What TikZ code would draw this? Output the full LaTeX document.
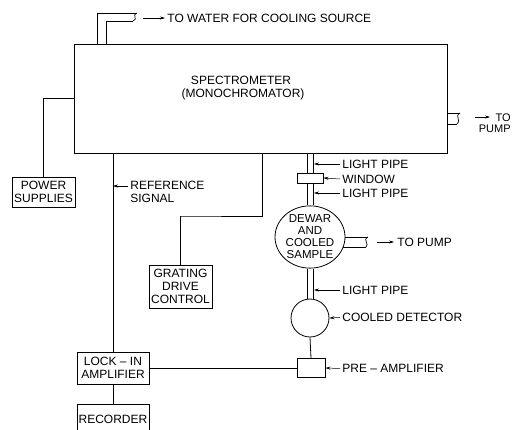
\documentclass[tikz,border=0pt]{standalone}
\usepackage{fontspec}
\setmainfont{Liberation Sans}
\usetikzlibrary{arrows.meta,shapes.geometric}
\newcommand\dfont{\fontsize{12}{13}\selectfont}
\begin{document}
\begin{tikzpicture}[x=1pt,y=-1pt,line width=0.8pt,
  box/.style={draw,inner sep=0pt,align=center,font=\dfont},
  lbl/.style={anchor=west,inner sep=0pt,align=left,font=\dfont},
  ptr/.style={line width=0.5pt,-{Stealth[length=5pt,width=3pt]}},
  pipe/.style={line width=0.7pt}]
\clip (0,0) rectangle (512,430);
\fill[white] (0,0) rectangle (512,430);
% boxes
\node[box,minimum width=373pt,minimum height=109pt] (spec) at (260.5,98.5) {};
\node[inner sep=0pt,font=\dfont] (spect) at (241,80.5) {SPECTROMETER};
\node[inner sep=0pt,font=\dfont] (mono) at (243,94) {(MONOCHROMATOR)};
\node[box,minimum width=63pt,minimum height=30pt] (power) at (43.5,192) {POWER\\SUPPLIES};
\node[box,minimum width=63pt,minimum height=43pt] (grating) at (180.5,286.5) {GRATING\\DRIVE\\CONTROL};
\node[box,minimum width=26pt,minimum height=10pt] (window) at (310,178) {};
\node[draw,ellipse,inner sep=0pt,minimum width=70pt,minimum height=62pt,align=center,font=\fontsize{11.5}{12}\selectfont] (dewar) at (310,237) {DEWAR\\AND\\COOLED\\SAMPLE};
\node[draw,circle,inner sep=0pt,minimum size=38pt] (det) at (310,318) {};
\node[box,minimum width=28pt,minimum height=19pt] (pre) at (311,368) {};
\node[box,minimum width=72pt,minimum height=32pt] (lockin) at (113,368) {LOCK – IN\\AMPLIFIER};
\node[box,minimum width=72pt,minimum height=30pt] (rec) at (113,419) {RECORDER};
% connectors
\draw (spec.west) -| (power.north);
\draw (spec.south -| lockin.north) -- (lockin.north);
\coordinate (gs) at (262,153);
\draw (gs) |- (181,216) -| (grating.north);
\draw (det.south) -- (pre.north);
\draw (pre.west) -- (lockin.east);
\draw (lockin.south) -- (rec.north);
% light pipes
\foreach \dx in {-3,3}{
  \draw[pipe] ([xshift=\dx pt]window.north |- spec.south) -- ([xshift=\dx pt]window.north);
  \draw[pipe] ([xshift=\dx pt]window.south) -- ([xshift=\dx pt]dewar.north);
  \draw[pipe] ([xshift=\dx pt]dewar.south) -- ([xshift=\dx pt]det.north);
}
% water pipe
\draw[pipe] (97,44) -- (97,13) -- (137,13);
\draw[pipe] (106,44) -- (106,21) -- (133,21);
\draw[pipe] (137,13) .. controls (131,15) and (139,19) .. (133,21);
\coordinate (wa) at (143,18);
\coordinate (wb) at (165,18);
\draw[ptr] (wa) -- (wb);
\node[lbl] (water) at (167,18.5) {TO  WATER  FOR  COOLING  SOURCE};
% pump pipe from spectrometer
\draw[pipe] (spec.east |- 0,113) -- (460,113);
\draw[pipe] (spec.east |- 0,124) -- (457,124);
\draw[pipe] (460,113) .. controls (454,116) and (462,121) .. (457,124);
\coordinate (pa) at (475,117);
\coordinate (pb) at (490,117);
\draw[ptr] (pa) -- (pb);
\node[inner sep=0pt,anchor=east,font=\fontsize{11}{12}\selectfont] (to1) at (511,117.5) {TO};
\node[inner sep=0pt,anchor=east,font=\fontsize{11}{12}\selectfont] (pump1) at (511,129) {PUMP};
% pump pipe from dewar
\draw[pipe] (dewar.east |- 0,237) -- (368,237);
\draw[pipe] (343,247) -- (366,247);
\draw[pipe] (368,237) .. controls (362,240) and (370,244) .. (366,247);
\coordinate (da) at (377,242);
\coordinate (db) at (394,242);
\draw[ptr] (da) -- (db);
\node[lbl] (pump2) at (397,242.5) {TO PUMP};
% reference signal
\node[lbl] (ref) at (130,192) {REFERENCE\\SIGNAL};
\draw[ptr] (128,186) -- (lockin.north |- 0,186);
% labels with leaders
\node[lbl] (lp1) at (342,164) {LIGHT  PIPE};
\node[lbl] (win) at (342,179) {WINDOW};
\node[lbl] (lp2) at (342,193) {LIGHT  PIPE};
\node[lbl] (lp3) at (342,290) {LIGHT  PIPE};
\node[lbl] (cd) at (342,317.5) {COOLED  DETECTOR};
\node[lbl] (pa2) at (342,368.5) {PRE – AMPLIFIER};
\draw[ptr] ([xshift=-2pt]lp1.west) -- (314,164);
\draw[ptr] ([xshift=-2pt]win.west) -- (window.east);
\draw[ptr] ([xshift=-2pt]lp2.west) -- (314,193);
\draw[ptr] ([xshift=-2pt]lp3.west) -- (314,290);
\draw[ptr] ([xshift=-2pt]cd.west) -- (det.east);
\draw[ptr] ([xshift=-2pt]pa2.west) -- (pre.east);
\end{tikzpicture}
\end{document}
